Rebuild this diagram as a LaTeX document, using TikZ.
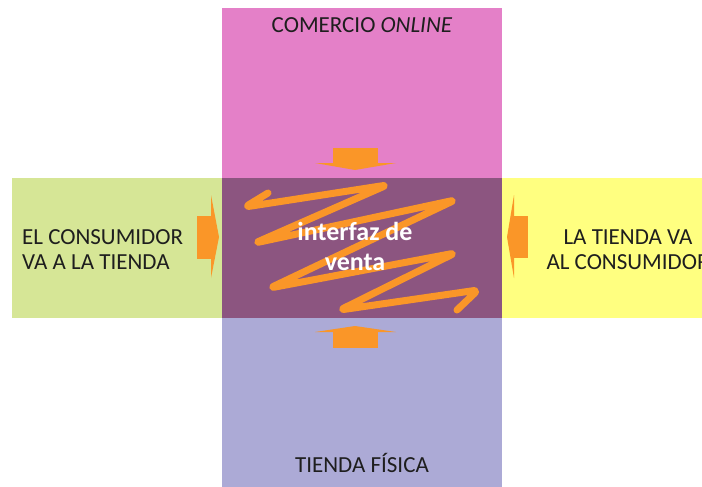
\documentclass[tikz,border=0pt]{standalone}
\usepackage{fontspec}
\setmainfont{Carlito}
\usetikzlibrary{positioning}
\definecolor{rosa}{RGB}{228,128,200}
\definecolor{verde}{RGB}{214,230,150}
\definecolor{amarillo}{RGB}{255,255,128}
\definecolor{lila}{RGB}{172,170,214}
\definecolor{morado}{RGB}{140,85,128}
\definecolor{naranja}{RGB}{250,150,40}
\definecolor{texto}{RGB}{30,30,30}

\begin{document}
\begin{tikzpicture}[x=1pt,y=-1pt,
  rotulo/.style={font=\fontsize{23}{25}\selectfont, text=texto, inner sep=0pt},
  zigzag/.style={draw=naranja, line width=7pt, line cap=round, line join=round, rounded corners=5pt},
  flecha/.style={fill=naranja}]
  \useasboundingbox (0,0) rectangle (702,487);
  \clip (0,0) rectangle (702,487);
  % bandas
  \fill[rosa] (222,8) rectangle (502,178);
  \fill[lila] (222,318) rectangle (502,490);
  \fill[verde] (12,178) rectangle (222,318);
  \fill[amarillo] (502,178) rectangle (710,318);
  \fill[morado] (222,178) rectangle (502,318);
  % flechas
  \fill[flecha] (197,216) rectangle (213,259);
  \fill[flecha] (211,195) -- (219,237) -- (211,278) -- cycle;
  \fill[flecha] (512,216) rectangle (528,258);
  \fill[flecha] (514,195) -- (507,237) -- (514,278) -- cycle;
  \fill[flecha] (333,148) rectangle (378,164);
  \fill[flecha] (315,163) -- (355,170) -- (396,163) -- cycle;
  \fill[flecha] (333,331) rectangle (378,348);
  \fill[flecha] (315,332) -- (355,326) -- (396,332) -- cycle;
  % interfaz
  \draw[zigzag] (268,193) -- (245,207) -- (387,185) -- (255,243) -- (455,200)
    -- (270,288) -- (455,253) -- (340,310) -- (478,290) -- (457,310);
  \node[font=\fontsize{26}{30}\selectfont\bfseries, text=white, align=center, inner sep=0pt]
    (interfaz) at (355,246) {interfaz de\\venta};
  % rotulos
  \node[rotulo, anchor=base] (online) at (362,33) {COMERCIO \textit{ONLINE}};
  \node[rotulo, anchor=base] (fisica) at (362,472) {TIENDA FÍSICA};
  \node[rotulo, anchor=west, align=left] (consumidor) at (22,250)
    {EL CONSUMIDOR\\VA A LA TIENDA};
  \node[rotulo, align=center] (tienda) at (628,250)
    {LA TIENDA VA\\AL CONSUMIDOR};
\end{tikzpicture}
\end{document}
